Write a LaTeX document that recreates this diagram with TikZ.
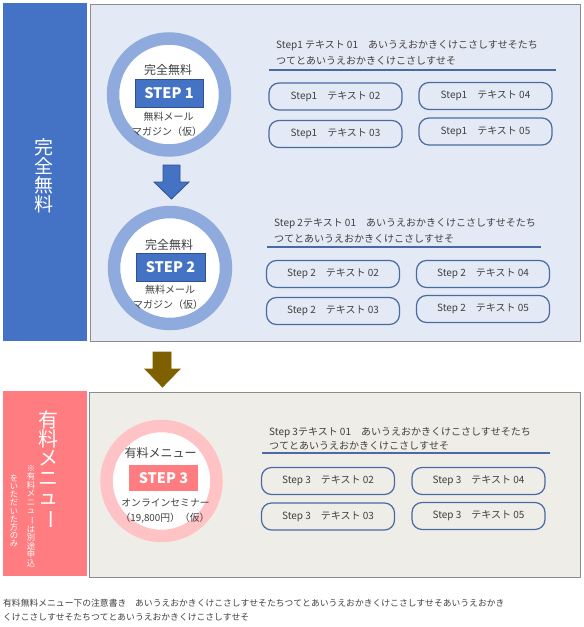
\documentclass[tikz,border=0pt]{standalone}
\usepackage{fontspec}
\setmainfont{Noto Sans CJK JP}
\usepackage{graphicx}
\definecolor{bluebar}{HTML}{4472C4}
\definecolor{bluedark}{HTML}{2F528F}
\definecolor{panelblue}{HTML}{E4EAF5}
\definecolor{ringblue}{HTML}{8FAADC}
\definecolor{pinkbar}{HTML}{FF7C80}
\definecolor{ringpink}{HTML}{FFC2C5}
\definecolor{panelbeige}{HTML}{EFEDE8}
\definecolor{brownarrow}{HTML}{7F6000}
\definecolor{boxline}{HTML}{4A6AA3}
\definecolor{txt}{HTML}{404040}
\definecolor{panelborder}{HTML}{8C8C8C}
\newcommand{\vbar}{\rotatebox[origin=c]{-90}{ー}}
\tikzset{
  panel/.style={draw=panelborder, line width=0.9pt, anchor=north west, inner sep=0pt},
  sidebar/.style={anchor=north west, inner sep=0pt, draw=none},
  ring/.style={circle, fill=white, line width=12.5pt, inner sep=0pt},
  stepbox/.style={draw, line width=0.8pt, text=white, inner sep=0pt, font=\fontsize{14.5}{16}\selectfont\bfseries},
  ctext/.style={text=txt, inner sep=0pt},
  sbox/.style={draw=boxline, line width=1.2pt, rounded corners=10pt, minimum width=133pt, minimum height=27pt, inner sep=0pt, text=txt, font=\fontsize{10}{12}\selectfont},
  title/.style={anchor=west, align=left, inner sep=0pt, text=txt},
  uline/.style={draw=boxline, line width=1.8pt},
  blockarrow/.style={line width=0.8pt, line join=miter},
}
\begin{document}
\begin{tikzpicture}[x=1pt,y=-1pt]
\useasboundingbox[fill=white] (0,0) rectangle (584,627);
% side bars
\node[sidebar, fill=bluebar, minimum width=84pt, minimum height=338pt] (bar1) at (3,3) {};
\node[sidebar, fill=pinkbar, minimum width=84pt, minimum height=185pt] (bar2) at (3,391) {};
% panels
\node[panel, fill=panelblue, minimum width=490pt, minimum height=337pt] (p1) at (90,4) {};
\node[panel, fill=panelbeige, minimum width=491pt, minimum height=185pt] (p2) at (89,392) {};
% vertical labels
\node[text=white, align=center, inner sep=0pt, font=\fontsize{19}{19}\selectfont] (v1) at (44,176) {完\\全\\無\\料};
\node[text=white, align=center, inner sep=0pt, font=\fontsize{20}{19.2}\selectfont] (v2) at (48,470) {有\\料\\メ\\ニ\\ュ\\\vbar};
\node[text=white, align=center, inner sep=0pt, font=\fontsize{8.3}{8.5}\selectfont] (v3) at (31,516) {※\\有\\料\\メ\\ニ\\ュ\\\vbar\\は\\別\\途\\申\\込};
\node[text=white, align=center, inner sep=0pt, font=\fontsize{8.3}{8.1}\selectfont] (v4) at (14,511) {を\\い\\た\\だ\\い\\た\\方\\の\\み};
% circles
\node[ring, draw=ringblue, minimum size=112pt] (c1) at (169,94.5) {};
\node[ring, draw=ringblue, minimum size=112pt] (c2) at (170,268) {};
\node[ring, draw=ringpink, minimum size=110pt] (c3) at (161.5,481) {};
% circle 1 content
\node[ctext, font=\fontsize{12}{14}\selectfont] (c1a) at (168,70) {完全無料};
\node[stepbox, fill=bluebar, draw=bluedark, minimum width=68pt, minimum height=28pt] (s1) at (169,93) {STEP 1};
\node[ctext, font=\fontsize{10}{12}\selectfont] (c1b) at (168.5,117) {無料メール};
\node[ctext, font=\fontsize{10}{12}\selectfont] (c1c) at (167,132) {マガジン（仮）};
% circle 2 content
\node[ctext, font=\fontsize{12}{14}\selectfont] (c2a) at (169,245) {完全無料};
\node[stepbox, fill=bluebar, draw=bluedark, minimum width=69pt, minimum height=28pt] (s2) at (170.5,267) {STEP 2};
\node[ctext, font=\fontsize{10}{12}\selectfont] (c2b) at (170,290) {無料メール};
\node[ctext, font=\fontsize{10}{12}\selectfont] (c2c) at (168,305) {マガジン（仮）};
% circle 3 content
\node[ctext, font=\fontsize{12}{14}\selectfont] (c3a) at (160.5,453) {有料メニュー};
\node[stepbox, fill=pinkbar, draw=none, minimum width=69pt, minimum height=26pt] (s3) at (163.5,478) {STEP 3};
\node[ctext, font=\fontsize{9.8}{12}\selectfont] (c3b) at (165.5,503) {オンラインセミナー};
\node[ctext, font=\fontsize{9.8}{12}\selectfont] (c3c) at (165,518) {（19,800円）（仮）};
% block arrows
\draw[blockarrow, fill=bluebar, draw=bluedark] (163,165) -- (180,165) -- (180,182) -- (189,182) -- (171.5,199) -- (154,182) -- (163,182) -- cycle;
\draw[blockarrow, fill=brownarrow, draw=brownarrow] (153,352) -- (171,352) -- (171,369) -- (180,369) -- (162.5,387) -- (145,369) -- (153,369) -- cycle;
% titles
\node[title, font=\fontsize{10}{16}\selectfont] (t1) at (276,53) {Step1 テキスト 01　あいうえおかきくけこさしすせそたち\\つてとあいうえおかきくけこさしすせそ};
\node[title, font=\fontsize{10}{16.5}\selectfont] (t2) at (274,231) {Step 2テキスト 01　あいうえおかきくけこさしすせそたち\\つてとあいうえおかきくけこさしすせそ};
\node[title, font=\fontsize{10}{14}\selectfont] (t3) at (269,438.5) {Step 3テキスト 01　あいうえおかきくけこさしすせそたち\\つてとあいうえおかきくけこさしすせそ};
\coordinate (u1a) at (269,70); \coordinate (u1b) at (556,70);
\coordinate (u2a) at (267,247); \coordinate (u2b) at (541,247);
\coordinate (u3a) at (262,453); \coordinate (u3b) at (550,453);
\draw[uline] (u1a) -- (u1b);
\draw[uline] (u2a) -- (u2b);
\draw[uline] (u3a) -- (u3b);
% step 1 boxes
\node[sbox] (b12) at (335.5,96.5) {Step1　テキスト 02};
\node[sbox] (b14) at (485.5,96) {Step1　テキスト 04};
\node[sbox] (b13) at (335.5,134) {Step1　テキスト 03};
\node[sbox] (b15) at (485.5,131.5) {Step1　テキスト 05};
% step 2 boxes
\node[sbox] (b22) at (333,274) {Step 2　テキスト 02};
\node[sbox] (b24) at (483,274) {Step 2　テキスト 04};
\node[sbox] (b23) at (333,311) {Step 2　テキスト 03};
\node[sbox] (b25) at (483,309) {Step 2　テキスト 05};
% step 3 boxes
\node[sbox] (b32) at (328,481) {Step 3　テキスト 02};
\node[sbox] (b34) at (478.5,481) {Step 3　テキスト 04};
\node[sbox] (b33) at (328,516.5) {Step 3　テキスト 03};
\node[sbox] (b35) at (478.5,516) {Step 3　テキスト 05};
% footer
\node[title, font=\fontsize{8.8}{14}\selectfont] (foot) at (3,610) {有料無料メニュー下の注意書き　あいうえおかきくけこさしすせそたちつてとあいうえおかきくけこさしすせそあいうえおかき\\くけこさしすせそたちつてとあいうえおかきくけこさしすせそ};
\end{tikzpicture}
\end{document}
